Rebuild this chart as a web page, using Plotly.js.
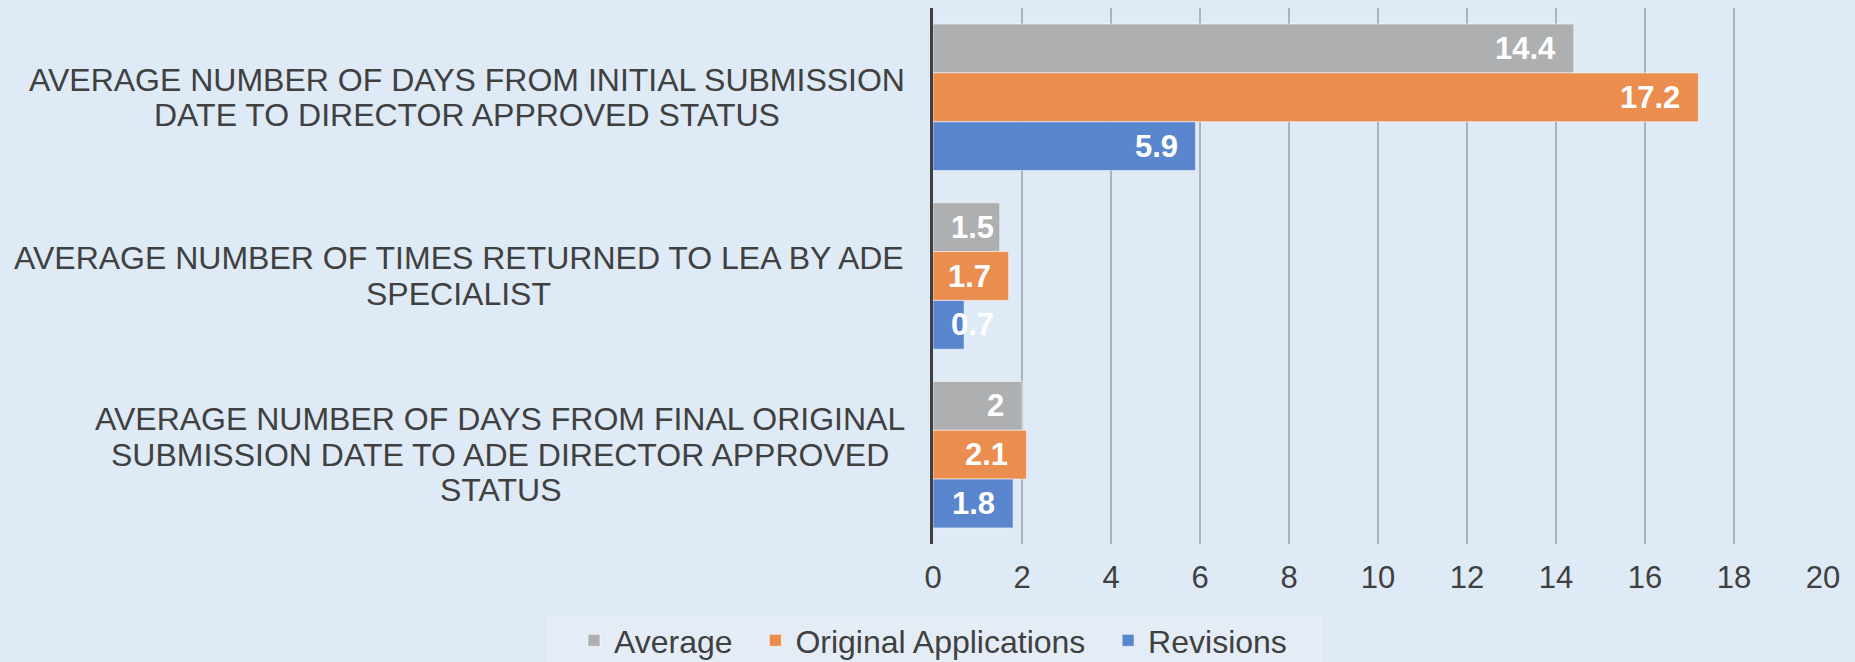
<!DOCTYPE html>
<html><head><meta charset="utf-8">
<script src="https://cdn.plot.ly/plotly-3.0.1.min.js"></script>
<style>html,body{margin:0;padding:0;background:#DEEAF6;} #chart{width:1855px;height:662px;}</style>
</head><body><div id="chart"></div>
<script>
// ---- data ----
const categories = [
  "AVERAGE NUMBER OF DAYS FROM INITIAL SUBMISSION<br>DATE TO DIRECTOR APPROVED STATUS",
  "AVERAGE NUMBER OF TIMES RETURNED TO LEA BY ADE<br>SPECIALIST",
  "AVERAGE NUMBER OF DAYS FROM FINAL ORIGINAL<br>SUBMISSION DATE TO ADE DIRECTOR APPROVED<br>STATUS"
];
const seriesNames = ["Average", "Original Applications", "Revisions"];
const averageValues = [14.4, 1.5, 2];
const originalValues = [17.2, 1.7, 2.1];
const revisionValues = [5.9, 0.7, 1.8];
const xTickValues = [0, 2, 4, 6, 8, 10, 12, 14, 16, 18, 20];

// ---- style / layout constants ----
const FONT = "Arial, 'Liberation Sans', sans-serif";
const colors = ["#AEAFB0", "#EB8D4F", "#5A86CE"];
const W = 1855, H = 662;
const M = {l: 933, r: 32, t: 8, b: 118};
const plotW = W - M.l - M.r, plotH = H - M.t - M.b;
const BARGAP = 0.18;
const xMax = 20;
const catLabelSize = 32, catLinePitch = 35.5, catRightGap = 27;
const valSize = 31, valPad = 16;
const legendPad = '\u00a0\u00a0';
const legendBox = {x0: 546, x1: 1322, y0: 616, y1: 662};
const legendLeft = 574, legendTop = 613;

const cv = document.createElement('canvas').getContext('2d');
function textW(t, size, bold) {
  cv.font = (bold ? 'bold ' : '') + size + 'px Arial, "Liberation Sans", sans-serif';
  return cv.measureText(t).width;
}

const allValues = [averageValues, originalValues, revisionValues];
const traces = allValues.map((vals, k) => ({
  type: 'bar', orientation: 'h',
  name: seriesNames[k] + (k < allValues.length - 1 ? legendPad : ''),
  x: vals, y: categories,
  marker: {color: colors[k], line: {color: 'rgba(255,255,255,0.55)', width: 1}},
  hoverinfo: 'x+name'
}));

const annotations = [];
// category labels (centered multi-line, right edge fixed)
categories.forEach((c) => {
  const lines = c.split('<br>');
  const maxW = Math.max(...lines.map(l => textW(l, catLabelSize, false)));
  lines.forEach((ln, i) => {
    annotations.push({
      xref: 'paper', yref: 'y', x: 0, y: c,
      xanchor: 'center', yanchor: 'middle',
      xshift: -catRightGap - maxW / 2,
      yshift: ((lines.length - 1) / 2 - i) * catLinePitch,
      text: ln, showarrow: false,
      font: {family: FONT, size: catLabelSize, color: '#404040'}
    });
  });
});
// value labels
const catPx = plotH / categories.length;
const barPx = catPx * (1 - BARGAP) / 3;
const pxPerUnit = plotW / xMax;
allValues.forEach((vals, k) => {
  vals.forEach((v, j) => {
    const t = String(v);
    const tw = textW(t, valSize, true);
    const fits = v * pxPerUnit - valPad - tw >= valPad;
    annotations.push({
      xref: 'x', yref: 'y', x: fits ? v : 0, y: categories[j],
      xanchor: fits ? 'right' : 'left', yanchor: 'middle',
      xshift: fits ? -valPad : valPad,
      yshift: (1 - k) * barPx,
      text: '<b>' + t + '</b>', showarrow: false,
      font: {family: FONT, size: valSize, color: '#FFFFFF'}
    });
  });
});

const px2paperX = p => (p - M.l) / plotW;
const px2paperY = p => (H - M.b - p) / plotH;

const layout = {
  width: W, height: H,
  margin: M,
  paper_bgcolor: '#DEEAF6', plot_bgcolor: '#DEEAF6',
  font: {family: FONT, color: '#404040', size: 31},
  barmode: 'group', bargap: BARGAP, bargroupgap: 0,
  xaxis: {
    range: [0, xMax], tickvals: xTickValues, ticktext: xTickValues.map(String),
    showgrid: true, gridcolor: '#A9B4BF', gridwidth: 1.5,
    zeroline: false, showline: false, ticks: '', ticklabelstandoff: 12,
    tickfont: {family: FONT, size: 31, color: '#404040'},
    fixedrange: true
  },
  yaxis: {
    type: 'category', autorange: 'reversed',
    showticklabels: false, showgrid: false, zeroline: false,
    showline: true, linecolor: '#404040', linewidth: 3,
    fixedrange: true
  },
  shapes: [{
    type: 'rect', xref: 'paper', yref: 'paper', layer: 'below',
    x0: px2paperX(legendBox.x0), x1: px2paperX(legendBox.x1),
    y0: px2paperY(legendBox.y0), y1: px2paperY(legendBox.y1),
    fillcolor: '#E4EDF6', line: {width: 0}
  }],
  legend: {
    orientation: 'h', xref: 'container', yref: 'container',
    x: legendLeft / W, xanchor: 'left', y: 1 - legendTop / H, yanchor: 'top',
    bgcolor: 'rgba(0,0,0,0)', font: {family: FONT, size: 32, color: '#404040'},
    traceorder: 'normal'
  },
  showlegend: true,
  annotations: annotations
};

Plotly.newPlot('chart', traces, layout, {displayModeBar: false, responsive: false});
</script>
</body></html>
